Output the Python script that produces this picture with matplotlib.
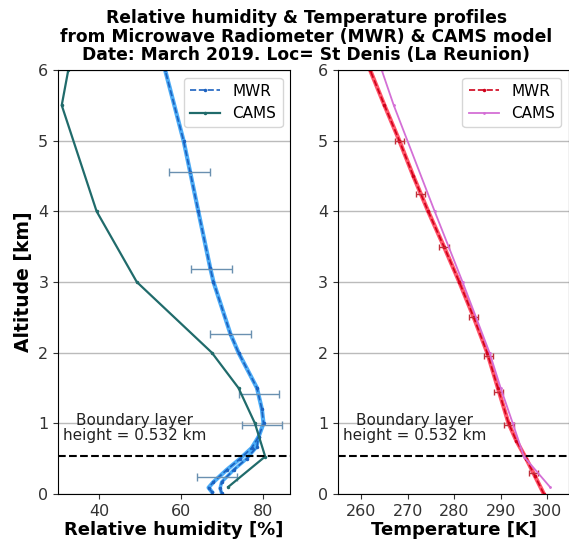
import numpy as np
import matplotlib.pyplot as plt

# MWR relative humidity profile (two branches near the ground)
mwr_alt = [0.03, 0.09, 0.17, 0.34, 0.5, 0.65, 0.81, 1.0, 1.2, 1.5, 2.0, 2.27, 3.0, 3.2, 4.0, 4.56, 5.0, 6.0]
mwr_rh = [67.5, 66.7, 67.9, 71.1, 74.4, 77.2, 78.9, 80.1, 79.7, 78.5, 74.0, 72.0, 67.9, 67.1, 64.2, 62.2, 60.6, 56.1]
mwr2_alt = [0.01, 0.08, 0.17, 0.34, 0.5, 0.67, 0.81]
mwr2_rh = [69.9, 69.5, 69.9, 72.8, 76.0, 78.5, 78.9]

# error bars on RH
rh_err_alt = [4.56, 3.19, 2.26, 1.42, 0.98, 0.24]
rh_err_val = [62.0, 67.5, 72.0, 78.9, 79.7, 68.7]
rh_err = [5.0, 5.0, 5.0, 4.9, 4.9, 4.9]

# CAMS relative humidity
cams_alt = [0.1, 0.53, 1.0, 1.5, 2.0, 3.0, 4.0, 5.5, 6.0]
cams_rh = [71.5, 80.5, 78.0, 74.0, 67.5, 49.2, 39.4, 30.9, 32.5]

# MWR temperature
mwr_t_alt = [0.0, 0.25, 0.5, 0.75, 1.0, 1.5, 2.0, 2.5, 3.0, 3.5, 4.0, 4.5, 5.0, 5.5, 6.0]
mwr_t = [299.3, 297.4, 295.5, 293.4, 291.7, 289.4, 287.1, 284.2, 281.1, 277.8, 274.4, 271.2, 268.2, 265.0, 261.9]
t_err_alt = [5.0, 4.25, 3.5, 2.5, 1.95, 1.45, 0.97, 0.3]
t_err_val = [268.2, 272.8, 277.8, 284.2, 287.4, 289.5, 291.8, 297.0]
t_err = [1.0, 1.0, 1.0, 1.0, 1.0, 1.0, 1.0, 1.0]

# CAMS temperature
cams_t = [300.6, 295.0, 292.6, 290.0, 287.6, 281.8, 275.8, 267.0, 264.4]

bl_height = 0.532

fig = plt.figure(figsize=(5.69, 5.45), dpi=100)
ax1 = fig.add_axes([0.102, 0.0936, 0.408, 0.778])
ax2 = fig.add_axes([0.594, 0.0936, 0.406, 0.778])

# relative humidity panel
ax1.plot(mwr_rh, mwr_alt, '-', color='#2e9ef5', lw=3, alpha=0.85)
ax1.plot(mwr2_rh, mwr2_alt, '-', color='#2e9ef5', lw=2.5, alpha=0.85)
ax1.plot(mwr_rh, mwr_alt, '--', color='#1c62c0', lw=1.2, marker='.', ms=3, label='MWR')
ax1.plot(mwr2_rh, mwr2_alt, '--', color='#1c62c0', lw=1.2, marker='.', ms=3)
ax1.errorbar(rh_err_val, rh_err_alt, xerr=rh_err, fmt='none', ecolor='#6a90b0', elinewidth=1, capsize=3)
ax1.plot(cams_rh, cams_alt, '-', color='#206b6b', lw=1.6, marker='.', ms=3, label='CAMS')

# temperature panel
ax2.plot(mwr_t, mwr_t_alt, '-', color='#ff2a44', lw=3, alpha=0.8)
ax2.plot(mwr_t, mwr_t_alt, '--', color='#d0021b', lw=1.2, marker='.', ms=3, label='MWR')
ax2.errorbar(t_err_val, t_err_alt, xerr=t_err, fmt='none', ecolor='#c0303a', elinewidth=1, capsize=2)
ax2.plot(cams_t, cams_alt, '-', color='#d46fd6', lw=1.3, marker='.', ms=2, label='CAMS')

for ax in (ax1, ax2):
    ax.axhline(bl_height, color='black', ls='--', lw=1.5)
    ax.text(0.33, 0.155, 'Boundary layer\nheight = 0.532 km', transform=ax.transAxes,
            ha='center', va='center', fontsize=11, color='#222222', linespacing=1.0)
    ax.set_ylim(0, 6)
    ax.set_yticks(range(7))
    ax.yaxis.grid(True, color='#bbbbbb', lw=1)
    ax.set_axisbelow(True)
    ax.tick_params(labelsize=11.5, colors='#333333')
    ax.legend(loc='upper right', fontsize=11)

ax1.set_xlim(30, 86.6)
ax1.set_xticks([40, 60, 80])
ax2.set_xlim(255, 304.7)
ax2.set_xticks([260, 270, 280, 290, 300])

ax1.set_xlabel('Relative humidity [%]', fontsize=13, fontweight='bold', labelpad=2)
ax2.set_xlabel('Temperature [K]', fontsize=13, fontweight='bold', labelpad=2)
ax1.set_ylabel('Altitude [km]', fontsize=13.5, fontweight='bold')

fig.suptitle('Relative humidity & Temperature profiles\n'
             'from Microwave Radiometer (MWR) & CAMS model\n'
             'Date: March 2019. Loc= St Denis (La Reunion)',
             x=0.538, y=0.983, fontsize=12.3, fontweight='bold', linespacing=1.02)

fig.savefig('out.png', dpi=100)
